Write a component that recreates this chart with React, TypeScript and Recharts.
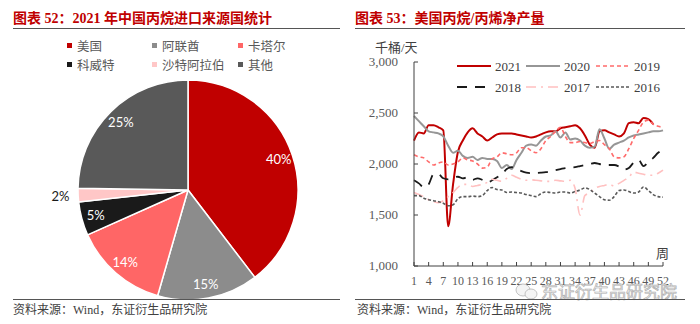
// Two panels: 2021 propane import sources (pie) and US propane/propylene weekly output (lines)
import { Cell, Line, LineChart, Pie, PieChart, XAxis, YAxis } from "recharts";

const SERIF = '"Liberation Serif", "Noto Sans CJK SC", serif';

// left panel
const countries = ["美国", "阿联酋", "卡塔尔", "科威特", "沙特阿拉伯", "其他"];
const shares = [40, 15, 14, 5, 2, 25];
const pieColors = ["#c00000", "#8c8c8c", "#ff6666", "#1a1a1a", "#ffc7c7", "#595959"];

// right panel
const weeks = Array.from({ length: 52 }, (_, i) => i + 1);
const xTicks = [1, 4, 7, 10, 13, 16, 19, 22, 25, 28, 31, 34, 37, 40, 43, 46, 49, 52];
const yTicks = [1000, 1500, 2000, 2500, 3000];

const y2021 = [2230, 2310, 2300, 2380, 2380, 2360, 2330, 1390, 1800, 2120, 2230, 2310, 2350, 2300, 2270, 2230, 2260, 2290, 2300, 2300, 2300, 2290, 2280, 2270, 2260, 2270, 2290, 2310, 2320, 2320, 2350, 2360, 2370, 2380, 2350, 2280, 2190, 2160, 2320, 2330, 2310, 2290, 2270, 2300, 2400, 2410, 2400, 2450, 2440, 2390, null, null];
const y2020 = [2470, 2420, 2370, 2320, 2310, 2300, 2270, 2180, 2110, 2130, 2080, 2060, 2070, 2040, 2060, 2050, 2050, 2030, 1960, 1990, 1950, 2040, 2110, 2180, 2190, 2180, 2230, 2270, 2280, 2320, 2260, 2310, 2240, 2250, 2230, 2180, 2160, 2170, 2340, 2250, 2150, 2190, 2210, 2230, 2260, 2280, 2290, 2300, 2310, 2320, 2320, 2330];
const y2019 = [2090, 2070, 2060, 2020, 1990, 2010, 2020, 1990, 2000, 2020, 2060, 2040, 2030, 2000, 1960, 1970, 2050, 2070, 2110, 2100, 2090, 2110, 2160, 2160, 2130, 2110, 2150, 2230, 2270, 2320, 2360, 2270, 2210, 2210, 2220, 2210, 2200, 2220, 2230, 2190, 2150, 2070, 2060, 2070, 2150, 2250, 2330, 2410, 2430, 2390, 2370, 2360];
const y2018 = [1840, 1810, 1770, 1800, 1900, 1900, 1860, 1850, 1865, 1875, 1860, 1870, 1845, 1860, 1845, 1820, 1840, 1870, 1900, 1950, 1970, 1950, 1930, 1915, 1910, 1912, 1915, 1920, 1930, 1940, 1950, 1960, 1965, 1970, 1980, 1990, 2000, 2010, 2000, 1990, 1990, 1990, 1975, 1945, 1960, 2015, 2040, 1980, 2020, 2060, 2110, 2140];
const y2017 = [1720, 1700, 1680, 1650, 1630, 1620, 1640, 1680, 1720, 1770, 1800, 1800, 1780, 1790, 1800, 1820, 1850, 1840, 1830, 1860, 1890, 1870, 1850, 1840, 1845, 1840, 1835, 1830, 1830, 1840, 1835, 1830, 1840, 1760, 1500, 1690, 1720, 1760, 1780, 1790, 1800, 1785, 1810, 1840, 1870, 1920, 1910, 1900, 1890, 1890, 1910, 1940];
const y2016 = [1690, 1690, 1665, 1650, 1640, 1630, 1615, 1590, 1600, 1660, 1680, 1680, 1685, 1680, 1690, 1740, 1770, 1750, 1745, 1720, 1725, 1720, 1715, 1700, 1690, 1680, 1710, 1725, 1720, 1715, 1725, 1725, 1715, 1730, 1745, 1765, 1750, 1715, 1680, 1650, 1645, 1680, 1740, 1745, 1730, 1715, 1725, 1775, 1740, 1700, 1680, 1675];

const seriesNames = ["2021", "2020", "2019", "2018", "2017", "2016"];
const seriesValues = [y2021, y2020, y2019, y2018, y2017, y2016];
const lineStyles = [
  { color: "#c00000", width: 2, dash: undefined },
  { color: "#969696", width: 2, dash: undefined },
  { color: "#ff6b6b", width: 1.6, dash: "4 3" },
  { color: "#1a1a1a", width: 1.8, dash: "10 8" },
  { color: "#ffc0c0", width: 1.6, dash: "10 5 2 5" },
  { color: "#595959", width: 1.6, dash: "3 2" },
];

const weekly = weeks.map((w, i) => {
  const row: Record<string, number | null> = { week: w };
  seriesNames.forEach((n, k) => (row["y" + n] = seriesValues[k][i]));
  return row;
});
const pieData = countries.map((name, i) => ({ name, value: shares[i] }));

const RAD = Math.PI / 180;

function SliceLabel(props: any) {
  const { cx, cy, midAngle, outerRadius, index } = props;
  const outside = index === 4;
  const r = outerRadius * (outside ? 1.16 : 0.87);
  const x = cx + r * Math.cos(-midAngle * RAD);
  const y = cy + r * Math.sin(-midAngle * RAD);
  return (
    <text x={x} y={y} textAnchor="middle" dominantBaseline="central" fontSize={13}
      fontFamily="Lato, sans-serif" fill={outside ? "#1a1a1a" : "#ffffff"}>
      {shares[index]}%
    </text>
  );
}

// tick marks point inward, so drawn here instead of via tickLine
function WeekTick({ x, y, payload }: any) {
  return (
    <g>
      <line x1={x} x2={x} y1={y} y2={y - 4} stroke="#404040" />
      <text x={x} y={y + 19} textAnchor="middle" fontSize={12} fontFamily={SERIF} fill="#595959">
        {payload.value}
      </text>
    </g>
  );
}

function ValueTick({ x, y, payload }: any) {
  return (
    <g>
      <line x1={x} x2={x + 4} y1={y} y2={y} stroke="#404040" />
      <text x={x - 16} y={y + 4} textAnchor="end" fontSize={13} fontFamily={SERIF} fill="#595959">
        {payload.value.toLocaleString("en-US")}
      </text>
    </g>
  );
}

const titleStyle: React.CSSProperties = {
  position: "absolute", top: 10, color: "#c00000", fontWeight: "bold", fontSize: 14,
  fontFamily: SERIF, lineHeight: "18px", whiteSpace: "nowrap",
};
const sourceStyle: React.CSSProperties = {
  position: "absolute", top: 302, fontSize: 12, color: "#404040", fontFamily: SERIF,
  lineHeight: "16px", whiteSpace: "nowrap",
};
const rule = (left: number, width: number, top: number): React.CSSProperties => ({
  position: "absolute", left, width, top, height: 0, borderTop: "1.5px solid #555",
});

export default function App() {
  const legCols = [457, 526, 596];
  const legRows = [66, 87];
  const pieCols = [67, 152, 238];
  const pieRows = [45, 64];
  return (
    <div style={{ position: "absolute", left: 0, top: 0, width: 700, height: 324, background: "#fff", overflow: "hidden" }}>
      <div style={{ ...titleStyle, left: 13 }}>图表 52：2021 年中国丙烷进口来源国统计</div>
      <div style={{ ...titleStyle, left: 355 }}>图表 53：美国丙烷/丙烯净产量</div>
      <div style={rule(13, 327, 28)} />
      <div style={rule(355, 330, 28)} />

      {countries.map((c, i) => (
        <div key={c} style={{ position: "absolute", left: pieCols[i % 3], top: pieRows[Math.floor(i / 3)] - 9,
          height: 18, display: "flex", alignItems: "center", fontSize: 12.5, color: "#595959", fontFamily: SERIF, whiteSpace: "nowrap" }}>
          <span style={{ width: 5, height: 5, background: pieColors[i], marginRight: 5 }} />
          {c}
        </div>
      ))}

      <div style={{ position: "absolute", left: 0, top: 0 }}>
        <PieChart width={340} height={300}>
          <Pie data={pieData} dataKey="value" nameKey="name" cx={183} cy={185} outerRadius={110}
            startAngle={90} endAngle={-270} stroke="#ffffff" strokeWidth={1.5}
            label={SliceLabel} labelLine={false} isAnimationActive={false}>
            {pieData.map((d, i) => (
              <Cell key={d.name} fill={pieColors[i]} />
            ))}
          </Pie>
        </PieChart>
      </div>

      <div style={{ position: "absolute", left: 375, top: 37, fontSize: 13, color: "#404040", fontFamily: SERIF }}>千桶/天</div>
      <div style={{ position: "absolute", left: 656, top: 243, fontSize: 13, color: "#404040", fontFamily: SERIF }}>周</div>

      <div style={{ position: "absolute", left: 350, top: 0 }}>
        <LineChart width={350} height={324} data={weekly} margin={{ top: 62, right: 37, left: 0, bottom: 0 }}>
          <XAxis dataKey="week" type="number" domain={[1, 52]} ticks={xTicks} interval={0}
            height={58} tickSize={0} tickMargin={0} tick={(p: any) => <WeekTick {...p} />}
            axisLine={{ stroke: "#404040" }} />
          <YAxis type="number" domain={[1000, 3000]} ticks={yTicks} interval={0} width={64}
            tickSize={0} tickMargin={0} tick={(p: any) => <ValueTick {...p} />}
            axisLine={{ stroke: "#404040" }} />
          {seriesNames.map((n, k) => (
            <Line key={n} dataKey={"y" + n} type="monotone" stroke={lineStyles[k].color}
              strokeWidth={lineStyles[k].width} strokeDasharray={lineStyles[k].dash}
              dot={false} isAnimationActive={false} connectNulls={false} />
          ))}
        </LineChart>
      </div>

      <svg style={{ position: "absolute", left: 0, top: 0 }} width={700} height={324}>
        {seriesNames.map((n, k) => {
          const x = legCols[k % 3];
          const y = legRows[Math.floor(k / 3)];
          return (
            <g key={n}>
              <line x1={x} x2={x + 34} y1={y} y2={y} stroke={lineStyles[k].color}
                strokeWidth={lineStyles[k].width} strokeDasharray={lineStyles[k].dash} />
              <text x={x + 38} y={y + 4.5} fontSize={13} fontFamily={SERIF} fill="#404040">{n}</text>
            </g>
          );
        })}
        <g stroke="#b5b5b5" fill="#f4f4f4" strokeWidth={0.8}>
          <ellipse cx={523} cy={290} rx={7} ry={6} />
          <ellipse cx={531} cy={294} rx={6} ry={5} />
        </g>
        <text x={541} y={298} fontSize={17} fontFamily='"Noto Sans CJK SC", sans-serif' fill="#f2f2f2"
          stroke="#b0b0b0" strokeWidth={0.7}>东证衍生品研究院</text>
      </svg>

      <div style={rule(13, 327, 299)} />
      <div style={rule(355, 330, 299)} />
      <div style={{ ...sourceStyle, left: 13 }}>资料来源：Wind，东证衍生品研究院</div>
      <div style={{ ...sourceStyle, left: 357 }}>资料来源：Wind，东证衍生品研究院</div>
    </div>
  );
}
